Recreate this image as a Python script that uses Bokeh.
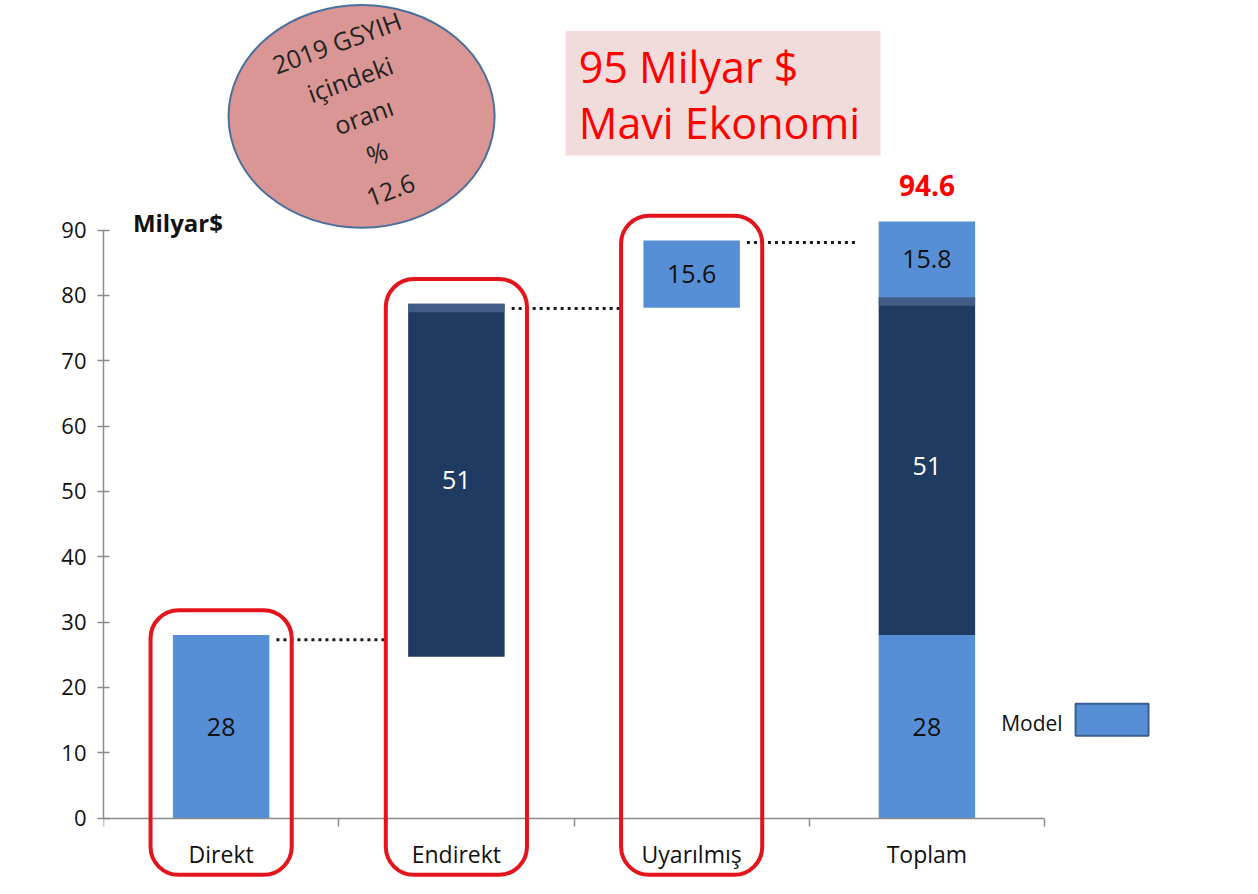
from bokeh.plotting import figure
from bokeh.models import Range1d, FixedTicker, BoxAnnotation, Label, ColumnDataSource
from bokeh.embed import file_html
from bokeh.resources import INLINE

# ---- data ----
categories = ["Direkt", "Endirekt", "Uyarılmış", "Toplam"]

# waterfall steps (first three categories)
step_bottom = [0.0, 24.7, 78.1]
step_top = [28.0, 78.7, 88.4]
step_labels = ["28", "51", "15.6"]
step_kind = ["light", "dark", "light"]

# total stack (fourth category)
total_bottom = [0.0, 28.0, 79.7]
total_top = [28.0, 79.7, 91.3]
total_labels = ["28", "51", "15.8"]
total_kind = ["light", "dark", "light"]

connector_y = [27.3, 78.0, 88.1]
total_value_label = "94.6"
share_text = "2019 GSYIH\niçindeki\noranı\n%\n12.6"
title_lines = ["95 Milyar $", "Mavi Ekonomi"]
unit_label = "Milyar$"
legend_label = "Model"
y_ticks = list(range(0, 91, 10))

# ---- style ----
LIGHT = "#568fd6"
DARK = "#1f3b62"
RED = "#e3141b"
FONT = "Open Sans"
colors = {"light": LIGHT, "dark": DARK}
textc = {"light": "#111111", "dark": "#ffffff"}
bevel_alpha = {"light": 0.0, "dark": 0.8}
BW = 0.41

p = figure(width=1252, height=889, x_range=Range1d(0, 4.884), y_range=Range1d(-10.94, 125.13),
           output_backend="svg", toolbar_location=None,
           min_border_left=103, min_border_right=0, min_border_top=0, min_border_bottom=0,
           background_fill_color="white", border_fill_color="white", outline_line_color=None)
p.grid.visible = False

# y axis
ya = p.yaxis[0]
ya.ticker = FixedTicker(ticks=y_ticks, minor_ticks=[])
ya.bounds = (0, 90)
ya.axis_line_color = "#8c8c8c"
ya.axis_line_width = 1.5
ya.major_tick_line_color = "#8c8c8c"
ya.major_tick_line_width = 1.5
ya.major_tick_in = 6
ya.major_tick_out = 6
ya.minor_tick_line_color = None
ya.major_label_standoff = 11
ya.major_label_text_font = FONT
ya.major_label_text_font_size = "22px"
ya.major_label_text_color = "#111111"

# x axis: labels at category centres, ticks at category boundaries, drawn at y = 0
xc = [i + 0.5 for i in range(len(categories))]
xa = p.xaxis[0]
xa.fixed_location = 0
xa.ticker = FixedTicker(ticks=xc, minor_ticks=list(range(len(categories) + 1)))
xa.bounds = (0, len(categories))
xa.major_label_overrides = {c: n for c, n in zip(xc, categories)}
xa.axis_line_color = "#8c8c8c"
xa.axis_line_width = 1.5
xa.major_tick_line_color = None
xa.major_tick_in = 0
xa.major_tick_out = 0
xa.minor_tick_line_color = "#8c8c8c"
xa.minor_tick_line_width = 1.5
xa.minor_tick_in = 0
xa.minor_tick_out = 8
xa.major_label_standoff = 12
xa.major_label_text_font = FONT
xa.major_label_text_font_size = "23px"
xa.major_label_text_color = "#111111"

# bars
bx, bb, bt, bc, bl, btc, ba = [], [], [], [], [], [], []
for i in range(3):
    bx.append(xc[i]); bb.append(step_bottom[i]); bt.append(step_top[i])
    bc.append(colors[step_kind[i]]); bl.append(step_labels[i]); btc.append(textc[step_kind[i]])
    ba.append(bevel_alpha[step_kind[i]])
for j in range(3):
    bx.append(xc[3]); bb.append(total_bottom[j]); bt.append(total_top[j])
    bc.append(colors[total_kind[j]]); bl.append(total_labels[j]); btc.append(textc[total_kind[j]])
    ba.append(bevel_alpha[total_kind[j]])
src = ColumnDataSource(dict(x=bx, bottom=bb, top=bt, color=bc, label=bl, tcolor=btc, balpha=ba,
                            btop=[t - 1.3 for t in bt],
                            mid=[(a + b) / 2 for a, b in zip(bb, bt)]))
p.vbar(x="x", bottom="bottom", top="top", width=BW, fill_color="color", line_color=None, source=src)
# subtle top bevel on the dark bars
p.vbar(x="x", bottom="btop", top="top", width=BW, fill_color="#4a6791", fill_alpha="balpha",
       line_color=None, source=src)
p.text(x="x", y="mid", text="label", text_color="tcolor", text_align="center",
       text_baseline="middle", text_font_size="25px", text_font={"value": FONT}, source=src)

# dotted connectors
p.segment(x0=[i + 0.5 + BW / 2 + 0.03 for i in range(3)], x1=[i + 1.21 for i in range(3)],
          y0=connector_y, y1=connector_y, line_color="#1a1a1a", line_width=3, line_dash="3 4")

# red rounded frames around the first three categories
for i in range(3):
    p.add_layout(BoxAnnotation(left=xc[i] - 0.3, right=xc[i] + 0.3, bottom=-8.7, top=step_top[i] + 3.8,
                               fill_alpha=0, line_color=RED, line_alpha=1, line_width=4,
                               border_radius=28))

# total value
p.add_layout(Label(x=xc[3], y=96.8, text=total_value_label, text_align="center", text_baseline="middle",
                   text_font=FONT, text_font_size="28px", text_font_style="bold", text_color="#ff0000"))
# unit label
p.add_layout(Label(x=0.125, y=91.1, text=unit_label, text_align="left", text_baseline="middle",
                   text_font=FONT, text_font_size="24px", text_font_style="bold", text_color="#111111"))

# share circle
p.ellipse(x=[1.097], y=[107.4], width=[1.131], height=[34.1], fill_color="#d99694",
          line_color="#4a6e9e", line_width=2)
p.add_layout(Label(x=1.105, y=107.5, text=share_text, angle=20, angle_units="deg",
                   text_align="center", text_baseline="middle", text_font=FONT,
                   text_font_size="25px", text_line_height=1.15, text_color="#222222"))

# title box
p.add_layout(BoxAnnotation(left=1.964, right=3.303, bottom=101.4, top=120.5,
                           fill_color="#f2dcdb", fill_alpha=1, line_color=None))
p.add_layout(Label(x=2.02, y=115.1, text=title_lines[0], text_align="left", text_baseline="middle",
                   text_font=FONT, text_font_size="43px", text_color="#ff0000"))
p.add_layout(Label(x=2.02, y=106.5, text=title_lines[1], text_align="left", text_baseline="middle",
                   text_font=FONT, text_font_size="43px", text_color="#ff0000"))

# legend (label on the left, swatch on the right)
p.quad(left=[4.132], right=[4.442], bottom=[12.6], top=[17.5], fill_color=LIGHT,
       line_color="#3a5f90", line_width=2)
p.add_layout(Label(x=4.077, y=14.6, text=legend_label, text_align="right", text_baseline="middle",
                   text_font=FONT, text_font_size="21px", text_color="#111111"))

open("out.html", "w").write(file_html(p, INLINE))
